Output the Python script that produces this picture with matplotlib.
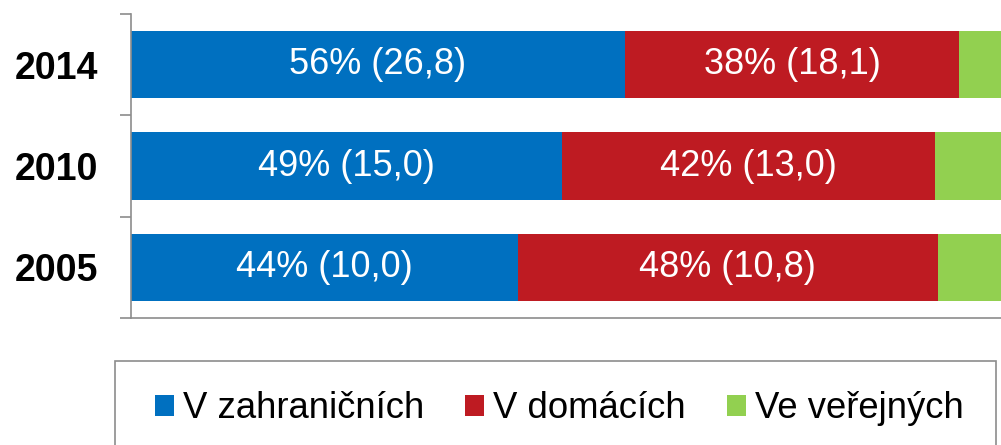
#!/usr/bin/env python3

import matplotlib
import matplotlib.pyplot as plt
from matplotlib.patches import Patch, Rectangle

plt.rcParams["font.family"] = ["Liberation Sans", "DejaVu Sans"]

years = ["2005", "2010", "2014"]
series = ["V zahraničních", "V domácích", "Ve veřejných"]
# shares in %
zahranicni = [43.9, 48.9, 56.1]
domaci = [47.6, 42.3, 37.8]
verejne = [8.5, 8.8, 6.1]
zahranicni_labels = ["44% (10,0)", "49% (15,0)", "56% (26,8)"]
domaci_labels = ["48% (10,8)", "42% (13,0)", "38% (18,1)"]

colors = ["#0070C0", "#BE1B22", "#92D050"]
W, H = 1001, 445

fig = plt.figure(figsize=(W / 100, H / 100), dpi=100)
ax = fig.add_axes([130.5 / W, (H - 318) / H, (1012.5 - 130.5) / W, (318 - 14) / H])

ypos = range(len(years))
left = [0] * len(years)
for vals, col, labels in [(zahranicni, colors[0], zahranicni_labels),
                          (domaci, colors[1], domaci_labels),
                          (verejne, colors[2], None)]:
    bars = ax.barh(ypos, vals, left=left, height=0.666, color=col, edgecolor="none")
    if labels:
        ax.bar_label(bars, labels=labels, label_type="center", color="white", fontsize=26)
    left = [l + v for l, v in zip(left, vals)]

ax.set_xlim(0, 100)
ax.set_ylim(-0.5, len(years) - 0.5)

for s in ["top", "right"]:
    ax.spines[s].set_visible(False)
for s in ["left", "bottom"]:
    ax.spines[s].set_color("#8c8c8c")
    ax.spines[s].set_linewidth(1.2)

ax.set_xticks([])
ax.set_yticks(list(ypos))
ax.set_yticklabels(years, fontsize=27, fontweight="bold")
ax.tick_params(axis="y", which="major", length=0, pad=23)
ax.set_yticks([-0.5, 0.5, 1.5, 2.5], minor=True)
ax.tick_params(axis="y", which="minor", length=8, width=1.2, color="#8c8c8c")

# legend box (runs past the bottom edge in the original)
fig.patches.append(Rectangle((115 / W, -0.05), (996 - 115) / W, (H - 361) / H + 0.05,
                             transform=fig.transFigure, facecolor="none",
                             edgecolor="#8c8c8c", linewidth=1.2))

handles = [Patch(facecolor=c, edgecolor="none") for c in colors]
fig.legend(handles, series, ncol=3, loc="center left",
           bbox_to_anchor=(155 / W, (H - 409) / H),
           fontsize=26.3, frameon=False,
           handlelength=0.52, handleheight=0.52, handletextpad=0.25,
           columnspacing=1.12, borderpad=0, borderaxespad=0)

fig.savefig("out.png", dpi=100)
